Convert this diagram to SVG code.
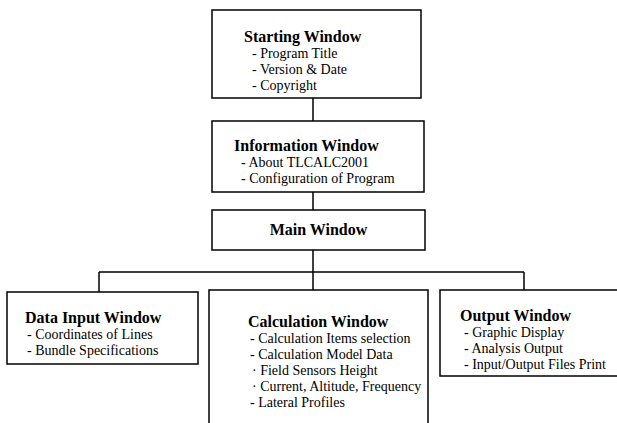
<svg xmlns="http://www.w3.org/2000/svg" width="617" height="423" viewBox="0 0 617 423">
<style>
.box{fill:#fff;stroke:#000;stroke-width:1.5}
.ln{fill:none;stroke:#000;stroke-width:1.5}
text{font-family:"Liberation Serif","Times New Roman",serif;fill:#000}
.t{font-size:16px;font-weight:bold}
.i{font-size:14px}
</style>
<rect width="617" height="423" fill="#fff"/>
<g id="connectors">
<path class="ln" d="M313,98V121M313,192V210M313,250V290M99,272H524M99,272V292M524,272V290"/>
</g>
<g id="starting">
<rect class="box" x="212" y="10" width="209" height="88"/>
<text class="t" x="244" y="42">Starting Window</text>
<text class="i" x="252" y="58">- Program Title</text>
<text class="i" x="252" y="74">- Version &amp; Date</text>
<text class="i" x="252" y="90">- Copyright</text>
</g>
<g id="information">
<rect class="box" x="212" y="121" width="212" height="71"/>
<text class="t" x="234" y="151">Information Window</text>
<text class="i" x="241" y="167">- About TLCALC2001</text>
<text class="i" x="241" y="183">- Configuration of Program</text>
</g>
<g id="main">
<rect class="box" x="212" y="210" width="213" height="40"/>
<text class="t" x="318.5" y="235" text-anchor="middle">Main Window</text>
</g>
<g id="datainput">
<rect class="box" x="7" y="292" width="191" height="72"/>
<text class="t" x="25" y="323">Data Input Window</text>
<text class="i" x="27" y="339">- Coordinates of Lines</text>
<text class="i" x="27" y="355">- Bundle Specifications</text>
</g>
<g id="calculation">
<path class="box" d="M209,424V290H428V424"/>
<text class="t" x="248" y="327">Calculation Window</text>
<text class="i" x="250" y="343">- Calculation Items selection</text>
<text class="i" x="250" y="359">- Calculation Model Data</text>
<text class="i" x="252" y="375">·  Field Sensors Height</text>
<text class="i" x="252" y="391">·  Current, Altitude, Frequency</text>
<text class="i" x="250" y="407">- Lateral Profiles</text>
</g>
<g id="output">
<path class="box" d="M618,290H440V376H618"/>
<text class="t" x="460" y="321">Output Window</text>
<text class="i" x="464" y="337">- Graphic Display</text>
<text class="i" x="464" y="353">- Analysis Output</text>
<text class="i" x="464" y="369">- Input/Output Files Print</text>
</g>
</svg>
